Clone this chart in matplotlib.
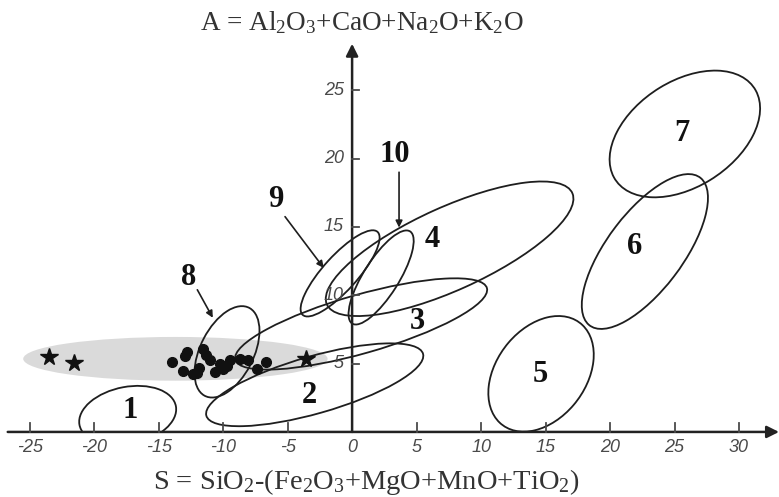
import matplotlib
matplotlib.use('Agg')
import matplotlib.pyplot as plt
from matplotlib.patches import Ellipse, Rectangle

plt.rcParams['mathtext.fontset'] = 'custom'
plt.rcParams['mathtext.rm'] = 'Liberation Serif'
plt.rcParams['mathtext.it'] = 'Liberation Serif:italic'

# fields: centre (S, A), width, height, tilt in degrees
field_names = ['1', '2', '3', '4', '5', '6', '7', '8', '9', '10']
field_s = [-17.4, -2.9, 0.7, 7.56, 14.65, 22.7, 25.8, -9.7, -0.93, 2.25]
field_a = [1.2, 3.45, 7.9, 13.4, 4.25, 13.2, 21.8, 5.86, 11.6, 11.3]
field_w = [7.6, 17.4, 20.2, 20.7, 9.6, 13.8, 12.7, 7.3, 8.4, 8.1]
field_h = [4.2, 4.2, 4.3, 6.1, 6.8, 5.8, 7.8, 4.1, 2.6, 2.7]
field_angle = [10, 15, 15, 23, 48, 51, 30, 61, 46, 56]

# where the field numbers sit
label_s = [-17.2, -3.3, 5.1, 6.2, 14.6, 21.9, 25.6, -12.7, -5.9, 3.3]
label_a = [1.6, 2.7, 8.1, 14.1, 4.2, 13.6, 21.8, 11.3, 17.0, 20.3]

# pointer arrows for fields 8, 9, 10
pointer_names = ['8', '9', '10']
pointer_from = [(-12.0, 10.4), (-5.2, 15.75), (3.64, 19.0)]
pointer_to = [(-10.8, 8.35), (-2.2, 12.0), (3.64, 14.95)]

# grey field of the studied rocks
grey_s, grey_a, grey_w, grey_h = -13.7, 5.35, 23.6, 3.2

# samples
dot_s = [-13.95, -13.10, -12.95, -12.79, -12.33, -11.86, -12.02, -11.55, -11.32, -11.01,
         -10.62, -10.23, -10.00, -9.69, -9.46, -8.68, -8.06, -7.36, -6.67]
dot_a = [5.13, 4.47, 5.57, 5.86, 4.25, 4.69, 4.32, 6.08, 5.64, 5.27,
         4.40, 4.98, 4.62, 4.84, 5.27, 5.35, 5.27, 4.62, 5.13]
star_s = [-23.5, -21.6, -3.55]
star_a = [5.5, 5.05, 5.3]

x_ticks = [-25, -20, -15, -10, -5, 0, 5, 10, 15, 20, 25, 30]
y_ticks = [5, 10, 15, 20, 25]

axis_col = '#4a4a4a'
line_col = '#1e1e1e'

fig = plt.figure(figsize=(7.79, 4.97), dpi=100)
ax = fig.add_axes([0, 0, 1, 1])
ax.set_xlim(-27.3, 33.1)
ax.set_ylim(-4.76, 31.6)
ax.axis('off')

# grey field first
ax.add_patch(Ellipse((grey_s, grey_a), grey_w, grey_h, facecolor='#dadada',
                     edgecolor='none', zorder=1))

clip = Rectangle((-30, 0), 70, 40, transform=ax.transData)
for i in range(len(field_names)):
    e = Ellipse((field_s[i], field_a[i]), field_w[i], field_h[i], angle=field_angle[i],
                facecolor='none', edgecolor=line_col, lw=1.3, zorder=3)
    ax.add_patch(e)
    e.set_clip_path(clip)
    ax.text(label_s[i], label_a[i], field_names[i], ha='center', va='center',
            fontsize=22, fontweight='bold', family='Liberation Serif', color='#111111',
            zorder=5)

for p0, p1 in zip(pointer_from, pointer_to):
    ax.annotate('', xy=p1, xytext=p0,
                arrowprops=dict(arrowstyle='-|>', color=line_col, lw=1.2,
                                mutation_scale=10, shrinkA=0, shrinkB=0), zorder=4)

ax.plot(dot_s, dot_a, 'o', color='#111111', markersize=7, zorder=6, linestyle='none')
ax.plot(star_s, star_a, '*', color='#111111', markersize=13, zorder=6, linestyle='none')

# axes with arrows
ax.annotate('', xy=(33.1, 0), xytext=(-26.7, 0),
            arrowprops=dict(arrowstyle='-|>', color='#222222', lw=1.8,
                            mutation_scale=18, shrinkA=0, shrinkB=0), zorder=7)
ax.annotate('', xy=(0, 28.4), xytext=(0, 0),
            arrowprops=dict(arrowstyle='-|>', color='#222222', lw=1.8,
                            mutation_scale=18, shrinkA=0, shrinkB=0), zorder=7)

for xt in x_ticks:
    if xt != 0:
        ax.plot([xt, xt], [0, 0.65], color=axis_col, lw=1.3, zorder=7)
    ax.text(xt, -1.15, str(xt), ha='center', va='center', fontsize=13,
            style='italic', family='Liberation Sans', color='#4a4a4a')
for yt in y_ticks:
    ax.plot([0, 0.55], [yt, yt], color=axis_col, lw=1.3, zorder=7)
    ax.text(-0.65, yt, str(yt), ha='right', va='center', fontsize=13,
            style='italic', family='Liberation Sans', color='#4a4a4a', zorder=7)

fig.text(0.465, 0.955, r'A = Al$_2$O$_3$+CaO+Na$_2$O+K$_2$O', ha='center', va='center',
         fontsize=19.5, family='Liberation Serif', color='#333333')
fig.text(0.47, 0.03, r'S = SiO$_2$-(Fe$_2$O$_3$+MgO+MnO+TiO$_2$)', ha='center',
         va='center', fontsize=20.5, family='Liberation Serif', color='#333333')

fig.savefig('out.png', dpi=100)
